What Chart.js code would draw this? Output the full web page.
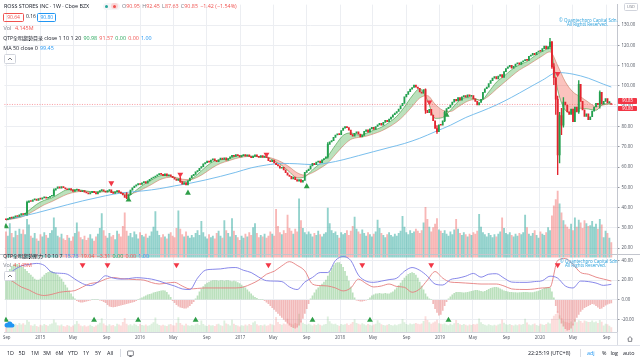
<!DOCTYPE html>
<html>
<head>
<meta charset="utf-8">
<script src="https://cdn.jsdelivr.net/npm/chart.js@4.4.1/dist/chart.umd.min.js"></script>
<style>
  body { margin: 0; background: #fff; }
  #wrap { position: relative; width: 640px; height: 360px; overflow: hidden; background: #fff;
          font-family: "Open Sans", "Noto Sans CJK TC", sans-serif; }
  #chart { position: absolute; left: 0; top: 0; }
  .t { position: absolute; white-space: nowrap; font-size: 5.4px; line-height: 7px; color: #131722; }
  .t span { margin-right: 2.2px; }
  .cjk { font-size: 5px; }
  .red { color: #ef5350; }
  .green { color: #26a65b; }
  .blue { color: #2196f3; }
  .violet { color: #6f6fe0; }
  .gray { color: #787b86; }
  .box { position: absolute; border: 0.7px solid; border-radius: 1.5px; font-size: 5px; line-height: 6.6px; text-align: center; }
  .btn { position: absolute; width: 10px; height: 8px; border: 0.6px solid #d1d4dc; border-radius: 1.5px; background: #fff; }
  .btn svg { position: absolute; left: 2px; top: 2px; }
  .wm { position: absolute; white-space: nowrap; font-size: 4.5px; line-height: 5px; color: #2aa0dc; }
  .plab { position: absolute; left: 618px; width: 19px; height: 5.6px; background: #f23645; color: #fff;
          font-size: 4.4px; line-height: 5.6px; text-align: center; border-radius: 0.8px; }
  .sep { position: absolute; width: 0; border-left: 0.7px solid #d8dbe2; }
</style>
</head>
<body>
<div id="wrap">
  <canvas id="chart" width="640" height="345"></canvas>

  <!-- price pane legend -->
  <div class="t" style="left:4px;top:3px;">ROSS STORES INC · 1W · Cboe BZX</div>
  <div style="position:absolute;left:103px;top:2.5px;width:17px;height:7px;border-radius:4px;background:#f4f5f7;"></div>
  <div style="position:absolute;left:105px;top:4.5px;width:3px;height:3px;border-radius:50%;background:#26a69a;"></div>
  <div style="position:absolute;left:111px;top:3px;width:7px;height:6px;border-radius:3px;background:#fbd5d7;"></div>
  <div style="position:absolute;left:113px;top:4.5px;width:3px;height:3px;border-radius:50%;background:#ef5350;"></div>
  <div class="t" style="left:122px;top:3px;"><span class="red"><b class="gray" style="font-weight:normal">O</b>90.95</span><span class="red"><b class="gray" style="font-weight:normal">H</b>92.45</span><span class="red"><b class="gray" style="font-weight:normal">L</b>87.63</span><span class="red"><b class="gray" style="font-weight:normal">C</b>90.85</span><span class="red">−1.42 (−1.54%)</span></div>
  <div class="box red" style="left:3.3px;top:13.3px;width:18.5px;height:6.6px;border-color:#ef5350;">90.64</div>
  <div class="t" style="left:26px;top:13.3px;font-size:5px;">0.16</div>
  <div class="box blue" style="left:37.3px;top:13.3px;width:17px;height:6.6px;border-color:#2196f3;">90.80</div>
  <div class="t" style="left:3.5px;top:25px;"><span class="gray">Vol</span> <span class="red">4.145M</span></div>
  <div class="t" style="left:3.3px;top:34.8px;"><span><b class="cjk" style="font-weight:normal">QTP全明趨勢目录</b> close 1 10 1 20</span><span class="green">90.98</span><span class="red">91.57</span><span class="green">0.00</span><span class="red">0.00</span><span class="blue">1.00</span></div>
  <div class="t" style="left:3.3px;top:44.5px;"><span>MA 50 close 0</span><span class="blue">99.45</span></div>
  <div class="btn" style="left:4px;top:53.5px;"><svg width="6" height="4" viewBox="0 0 6 4"><path d="M1 3L3 1L5 3" stroke="#131722" stroke-width="0.6" fill="none"/></svg></div>

  <div class="wm" style="left:559px;top:17.5px;">© Quantechpro Capital Sdn.</div>
  <div class="wm" style="left:567px;top:22px;">All Rights Reserved.</div>
  <div class="box gray" style="left:624px;top:3px;width:12px;height:5.6px;border-color:#d1d4dc;font-size:4px;line-height:5.6px;">USD</div>
  <div class="plab" style="top:98.4px;">90.85</div>
  <div class="plab" style="top:105.5px;">90.80</div>

  <!-- oscillator pane legend -->
  <div class="t" style="left:3.3px;top:252.6px;"><span><b class="cjk" style="font-weight:normal">QTP全明趨勢壓力</b> 10 10 7</span><span class="violet">15.73</span><span class="red">19.04</span><span class="red">−3.31</span><span class="green">0.00</span><span class="red">0.00</span><span class="blue">1.00</span></div>
  <div class="t" style="left:3.3px;top:262px;"><span class="gray">Vol</span><span class="red">4.145M</span></div>
  <div class="btn" style="left:4px;top:271px;"><svg width="6" height="4" viewBox="0 0 6 4"><path d="M1 3L3 1L5 3" stroke="#131722" stroke-width="0.6" fill="none"/></svg></div>
  <svg style="position:absolute;left:4px;top:320px;" width="11" height="8" viewBox="0 0 22 16"><path d="M5 15h12a4 4 0 0 0 0-8 6 6 0 0 0-11-1 4.5 4.5 0 0 0-1 9z" fill="#2196f3"/></svg>
  <div class="wm" style="left:560px;top:258.5px;">© Quantechpro Capital Sdn</div>
  <div class="wm" style="left:565px;top:263px;">All Rights Reserved.</div>

  <!-- time axis corner + toolbar -->
  <div class="sep" style="left:617px;top:332px;height:13px;"></div>
  <svg style="position:absolute;left:627px;top:336px;" width="6" height="6" viewBox="0 0 6 6"><path d="M0.5 3L3 0.6L5.5 3M1.3 2.4V5.4H4.7V2.4" stroke="#131722" stroke-width="0.5" fill="none"/></svg>
  <div style="position:absolute;left:0;top:345px;width:640px;height:0;border-top:0.7px solid #e0e3eb;"></div>
  <div class="t" style="left:7px;top:350px;">1D</div>
  <div class="t" style="left:18.5px;top:350px;">5D</div>
  <div class="t" style="left:31px;top:350px;">1M</div>
  <div class="t" style="left:43px;top:350px;">3M</div>
  <div class="t" style="left:55.5px;top:350px;">6M</div>
  <div class="t" style="left:68px;top:350px;">YTD</div>
  <div class="t" style="left:83px;top:350px;">1Y</div>
  <div class="t" style="left:95px;top:350px;">5Y</div>
  <div class="t" style="left:107px;top:350px;">All</div>
  <div class="sep" style="left:120px;top:349px;height:8px;"></div>
  <svg style="position:absolute;left:127px;top:350px;" width="7" height="7" viewBox="0 0 7 7"><rect x="0.6" y="1" width="5.8" height="4.6" rx="0.6" stroke="#131722" stroke-width="0.5" fill="none"/><path d="M2 6.6H5M3.5 5.6V6.6" stroke="#131722" stroke-width="0.5"/></svg>
  <div class="t" style="left:528px;top:350px;">22:25:19 (UTC+8)</div>
  <div class="sep" style="left:580px;top:349px;height:8px;"></div>
  <div class="t blue" style="left:587px;top:350px;">adj</div>
  <div class="t" style="left:602px;top:350px;">%</div>
  <div class="t" style="left:610.5px;top:350px;">log</div>
  <div class="t" style="left:623px;top:350px;">auto</div>
</div>

<script>
// weekly bars, week 0 = 29 Aug 2014
var close2014 = [34.0, 34.6, 35.2, 34.8, 35.4, 36.0, 35.6, 36.4, 37.0, 36.6, 37.2, 42.6, 43.4, 43.0, 43.8, 44.2, 43.6, 44.4];
var close2015 = [44.2, 44.8, 45.2, 44.6, 45.0, 45.6, 46.0, 48.6, 49.4, 50.2, 49.6, 50.4, 49.8,
    49.2, 48.8, 49.4, 48.6, 48.0, 48.6, 49.0, 48.2, 47.8, 48.4, 47.6,
    47.2, 46.8, 47.4, 48.0, 47.4, 46.8, 47.6, 48.4, 48.8, 48.2,
    47.6, 48.4, 48.8, 47.4, 47.0, 47.8, 48.4, 47.6, 47.0, 46.2, 45.0, 44.8,
    46.4, 48.6, 49.8, 50.6, 51.2, 51.8];
var close2016 = [51.4, 52.2, 52.8, 52.0, 53.2, 54.0, 54.6, 55.0,
    55.6, 56.2, 56.8, 56.4, 55.8, 56.6, 55.6, 56.2, 55.4,
    54.8, 54.0, 53.4, 54.2, 52.8, 51.6, 52.4, 51.2,
    53.2, 54.6, 55.8, 56.4, 57.6, 58.2, 59.4, 60.2, 61.6,
    62.2, 63.0, 62.4, 63.4, 64.0, 63.2, 62.6, 63.6, 64.4, 63.8, 64.6, 63.4, 64.2,
    65.0, 65.8, 65.2, 66.2, 65.6, 65.0];
var close2017 = [65.6, 66.2, 65.4, 66.0, 65.2, 64.6, 65.4, 66.0, 65.2, 64.8, 65.6, 64.8, 65.4,
    64.6, 63.2, 62.6, 63.4, 62.0, 61.2, 60.6, 59.4, 59.8, 58.6,
    57.2, 56.0, 55.4, 54.2, 55.0, 53.8, 53.0, 53.8, 52.6,
    53.4, 57.4, 58.2, 59.0, 60.6, 61.8, 61.2, 62.4, 63.0, 62.2, 63.6, 64.2, 65.0, 71.2, 72.4, 73.0, 74.6, 75.8, 76.4, 76.0];
var close2018 = [78.0, 79.2, 80.0, 79.4, 78.2, 76.0, 75.2, 76.6, 77.4, 76.2, 74.8, 75.6,
    77.6, 78.4, 77.2, 78.8, 79.6, 78.6, 80.0, 80.8,
    81.6, 80.6, 82.0, 83.0, 82.4, 83.6, 84.6, 85.8, 86.6, 87.4, 88.6,
    90.2, 91.4, 94.6, 95.8, 97.2, 98.4, 99.2, 100.4, 99.4, 98.8, 97.0, 96.4, 98.2,
    88.0, 86.8, 88.4, 85.6, 82.8, 79.0, 77.4, 80.8];
var close2019 = [80.6, 82.8, 87.0, 88.8, 89.4, 90.6, 92.0,
    93.4, 92.6, 94.2, 93.0, 94.6, 95.2, 94.4, 95.6, 94.8,
    95.2, 93.6, 92.4, 90.6, 91.8,
    93.4, 96.8, 98.6, 99.4, 101.2, 102.6, 103.8, 104.6, 103.4, 104.8, 105.6,
    104.2, 107.0, 108.6, 109.4, 110.2, 108.8, 109.6, 110.8, 111.4, 110.6, 111.8, 112.4,
    113.0, 112.6, 114.6, 115.2, 116.0, 115.4, 116.6, 117.2];
var close2020 = [117.0, 118.4, 119.6, 118.2, 119.4, 121.6, 109.4, 104.0, 93.4, 66.0,
    85.4, 80.6, 92.0, 90.6, 87.2, 86.0, 88.6, 82.4, 89.6, 87.2,
    100.8, 92.4, 88.2, 85.0, 86.2, 83.4, 84.8, 87.6, 89.6, 91.4,
    90.6, 96.8, 91.0, 92.4, 93.8, 91.6, 92.27, 90.85];
var firstOpen = 34.3;
var lastOpen = 90.95;

// long wicks worth drawing: [week, low, high]
var bigWicks = [[11, 36.2, 43.2], [25, 45.6, 49.2], [63, 44.4, 47.4], [91, 52.4, 55.2], [168, 64.4, 72.0],
    [219, 86.4, 98.6], [225, 76.6, 80.4], [229, 82.4, 87.6], [284, 118.6, 123.4], [285, 108.6, 122.0],
    [286, 100.6, 111.0], [287, 86.0, 104.0], [288, 56.3, 95.0], [289, 62.0, 87.0], [290, 76.0, 89.0],
    [291, 79.6, 94.2], [299, 86.4, 102.6], [310, 89.0, 97.6]];

// weekly volume, millions
var vol2014 = [7.2, 6.0, 9.6, 6.8, 5.6, 7.4, 6.2, 8.0, 6.6, 7.8, 6.4, 10.8, 9.2, 6.0, 5.4, 6.8, 5.2, 4.6];
var vol2015 = [6.4, 5.8, 7.0, 6.2, 5.4, 6.8, 7.6, 11.2, 8.4, 6.0, 5.6, 6.6, 5.2, 4.8, 6.2, 5.4, 4.6, 5.8, 6.8, 9.8,
    7.2, 5.6, 5.0, 6.0, 4.8, 5.4, 6.4, 5.2, 4.6, 5.8, 6.6, 8.2, 12.4, 7.6, 6.0, 5.4, 6.8, 5.8, 6.2, 5.0,
    7.4, 6.6, 5.8, 8.8, 12.6, 7.4, 6.0, 6.8, 5.6, 7.2, 6.4, 5.2];
var vol2016 = [7.0, 6.2, 5.8, 6.6, 5.4, 6.0, 7.2, 8.6, 13.0, 7.4, 6.2, 5.6, 6.4, 5.8, 5.2, 6.6, 7.0, 6.0, 5.6, 8.2,
    13.2, 8.0, 6.4, 5.8, 7.2, 6.0, 5.4, 6.2, 5.6, 6.8, 7.6, 6.2, 10.2, 7.0, 5.8, 5.2, 6.4, 5.6, 6.0, 5.2,
    6.8, 7.4, 6.0, 5.4, 10.4, 7.6, 6.8, 5.8, 11.0, 7.4, 6.2, 5.6, 4.8];
var vol2017 = [6.0, 5.4, 6.6, 5.8, 7.0, 6.2, 8.4, 9.6, 6.8, 5.6, 6.2, 5.8, 6.6, 5.4, 6.0, 7.2, 6.6, 6.0, 13.6, 8.8,
    7.0, 6.4, 7.6, 6.8, 12.0, 8.2, 7.4, 6.6, 8.0, 7.2, 16.6, 10.4, 8.2, 7.0, 6.4, 7.2, 6.6, 5.8, 6.8, 6.2,
    7.4, 6.4, 5.8, 6.6, 7.0, 14.0, 9.6, 7.6, 6.8, 7.2, 6.2, 5.4];
var vol2018 = [7.0, 6.4, 6.8, 7.6, 6.2, 7.4, 8.8, 11.4, 8.0, 7.2, 6.6, 7.8, 6.8, 6.0, 7.0, 6.4, 5.8, 6.6, 7.2, 10.6,
    8.2, 6.8, 6.2, 5.6, 6.4, 7.0, 6.2, 5.8, 6.6, 6.0, 6.8, 7.4, 11.6, 8.6, 7.0, 6.4, 7.6, 6.8, 7.2, 8.0,
    7.4, 6.8, 7.6, 9.8, 14.2, 10.8, 8.6, 7.2, 8.4, 9.4, 11.0, 7.8];
var vol2019 = [7.4, 6.8, 7.6, 6.6, 6.0, 7.2, 6.4, 7.8, 10.8, 8.0, 6.8, 6.2, 7.0, 6.4, 5.8, 6.6, 6.2, 7.0, 6.6, 7.4,
    12.2, 8.6, 7.0, 6.4, 5.8, 6.8, 6.2, 5.6, 6.4, 5.8, 6.6, 7.2, 11.2, 8.2, 6.8, 6.4, 7.0, 6.2, 5.8, 6.6,
    6.0, 6.8, 6.4, 7.0, 12.0, 8.4, 6.6, 6.0, 6.8, 7.6, 6.2, 5.4];
var vol2020 = [7.2, 6.6, 6.2, 7.0, 8.4, 7.6, 11.8, 14.6, 16.4, 18.8, 15.2, 12.6, 10.4, 9.2, 8.6, 8.0, 9.4, 7.6, 11.2, 8.6,
    10.6, 9.8, 8.2, 10.4, 9.6, 8.8, 9.0, 10.2, 8.6, 9.4, 8.0, 10.8, 9.2, 5.6, 7.4, 6.8, 5.4, 4.145];

// oscillator histogram, weekly
var hist2014 = [22, 27, 31, 34, 35.5, 36, 36, 35, 34, 33, 31, 29, 27, 25, 23, 21, 20, 20];
var hist2015 = [21, 23, 25, 27, 28, 29, 29, 28, 27, 25, 23, 21, 18, 15, 12, 9, 6, 3, 1,
    -1, -2, -2.4, -2.4, -2, -1.5, -1, -0.5, 0, 0.5, 0.5, 0, -0.5, -1, -2, -3,
    -5, -6.5, -7.2, -7.4, -7, -6.5, -6, -5.5, -5, -4.5, -4, -3.5, -3, -2.5, -2, -1, 0];
var hist2016 = [1, 2, 3, 4, 5, 5.5, 6, 7, 7.5, 8, 8.5, 9, 9.3, 9, 7.5, 5, 2.5,
    -1, -3, -5, -6.5, -7.5, -8.2, -8.7, -8.5, -7.5, -6, -4, -2,
    1, 4, 8, 11, 13.5, 15.5, 17, 18, 19, 19.4, 19.4, 19.4, 19, 19.4, 19.4, 19, 19.4, 19.4, 19, 18.5, 19, 18.5, 17.5, 16.5];
var hist2017 = [15, 13.5, 12, 10, 8, 6, 4, 2.5, 1.5, 0.5, 0, 0,
    -1, -2.5, -4, -6, -8, -10, -12, -14, -16, -18, -20, -22, -24, -26, -27.5, -28.5, -29, -28, -26, -23, -19, -14, -9, -4,
    1, 4, 7, 10, 12, 14, 16, 18, 20, 24, 28, 32, 35, 37, 37.8, 37.8];
var hist2018 = [36, 33, 29, 24, 19, 13, 7, 2, -0.5, -1, -1.4, -1.4, -1, -0.5, 0,
    2, 4, 5, 6, 6, 6.5, 6, 6, 6.5, 6, 6, 7, 8, 10, 12, 14.5, 17, 19.5, 22, 24, 26, 27, 27.7, 27, 25, 22, 18, 14, 10, 6, 3, 1, 0,
    -4, -9, -13, -15.8];
var hist2019 = [-15, -11, -6, -2,
    1, 3, 5, 6.5, 7.5, 7.6, 7.6, 7.2, 7, 7.4, 7.6, 8, 8.5, 9, 9.5, 9.5, 9, 8.5, 8, 8.5,
    9.5, 10.5, 11.5, 12.2, 12.7, 12.7, 12, 11, 10, 9, 8.5, 8, 7.6, 7.6, 7.4, 7.2, 7, 7.2, 7.4, 7.6,
    7.6, 7.6, 7.4, 7.2, 7.4, 7.8, 8.2, 8.8];
var hist2020 = [9.6, 10.6, 11.6, 12.4, 12.7, 12, 8, 2,
    -6, -13, -19, -24, -27, -29.5, -31, -30.5, -29, -26, -22, -18, -15, -12, -10, -8, -7, -6, -5, -4,
    -4.5, -6, -7.5, -9, -8.5, -7, -5.5, -4.5, -3.8, -3.31];

// ribbon lines and oscillator lines, one reading every 4 weeks
var ribbonFast = [34.0, 34.9, 36.0, 38.6, 41.6, 43.6, 44.8, 47.0, 48.8, 48.9,
    48.5, 47.9, 47.8, 48.0, 47.7, 47.3, 45.8, 48.6, 51.4, 53.6,
    55.6, 56.0, 54.9, 52.8, 53.6, 56.4, 59.8, 62.6, 63.6, 64.0,
    65.4, 65.8, 65.4, 65.1, 64.8, 63.0, 60.8, 57.6, 54.6, 55.2,
    58.6, 61.8, 65.4, 70.8, 75.6, 76.8, 75.8, 76.6, 78.2, 79.6,
    82.0, 85.0, 89.6, 95.0, 98.6, 93.0, 84.0, 84.4, 88.0, 92.2,
    94.2, 94.0, 92.8, 97.0, 101.8, 104.8, 108.0, 110.4, 112.0, 114.8,
    117.0, 118.6, 98.0, 88.0, 86.6, 89.0, 88.6, 88.0, 91.2, 90.98];
var ribbonSlow = [33.8, 34.5, 35.3, 37.0, 39.2, 41.4, 43.0, 44.9, 46.6, 47.6,
    48.0, 47.8, 47.7, 47.8, 47.8, 47.6, 46.8, 47.6, 49.4, 51.4,
    53.6, 54.8, 55.0, 54.0, 53.8, 55.0, 57.2, 59.8, 61.8, 63.0,
    64.2, 65.0, 65.2, 65.1, 65.0, 64.0, 62.4, 60.0, 57.2, 56.0,
    57.2, 59.4, 62.0, 66.2, 70.4, 73.6, 74.6, 75.2, 76.4, 77.8,
    79.8, 82.2, 85.6, 89.8, 94.0, 95.2, 91.0, 88.0, 87.4, 89.6,
    92.0, 93.2, 93.0, 95.0, 98.4, 101.6, 104.8, 107.8, 110.0, 112.4,
    114.8, 116.8, 110.0, 102.0, 97.0, 94.6, 92.0, 89.8, 90.6, 91.57];
var oscBlue = [24, 30, 34.5, 36, 37, 35, 28, 27, 26, 21,
    16.4, 14.4, 18, 24.4, 22, 21, 21.5, 22.5, 22, 21,
    19, 16.4, 14, 11, 10.4, 22, 30, 31, 31.4, 32.5,
    32.8, 30, 27.7, 23, 19.4, 19, 18.5, 13, 10.4, 18,
    22.7, 27.7, 27.7, 40, 44, 40, 25, 19, 17.7, 19,
    20.5, 22, 29, 32.8, 30, 24, 16, 15, 20.5, 22,
    24, 26.8, 23, 26, 26.5, 22, 18, 17.7, 17.7, 18.5,
    19.4, 24, 22, 14, 12, 19, 18.5, 17, 14.6, 15.73];
var oscRed = [22.7, 18, 13, 10, 6, 4.3, 5.5, 7.6, 8.5, 9.3,
    13, 16.5, 17.7, 21, 22.7, 21.5, 21, 20.5, 20, 17.5,
    16, 17, 17.7, 14, 11, 11.5, 12, 12, 12, 12,
    12, 13, 16, 20, 26, 29, 34.5, 38.8, 35, 29.4,
    16, 14.4, 14, 12, 9, 12, 21, 16.5, 13, 14,
    16, 13.5, 12.7, 7.6, 11, 20, 28.7, 22, 18, 17.5,
    17, 16.5, 16, 16, 16, 14, 11, 10.5, 10.4, 11,
    12, 12.7, 40, 42, 36, 27.7, 26, 23, 21, 19.04];

// MA 50, one reading every 8 weeks (last one is the final week)
var ma50 = [34.0, 35.6, 37.4, 39.4, 41.4, 43.3, 45.0, 46.6, 47.6, 48.3,
    49.3, 50.7, 52.0, 53.6, 55.4, 57.4, 59.6, 61.0, 61.8, 61.6,
    61.2, 62.0, 63.6, 65.6, 67.6, 69.6, 71.6, 74.2, 77.4, 80.6,
    84.4, 87.4, 90.6, 94.4, 98.6, 102.8, 106.6, 105.8, 103.8, 100.8, 99.45];

// signal weeks
var priceSellWeeks = [55, 91, 136, 221, 288];
var priceSellLevels = [52.1, 56.4, 66.2, 92.0, 106.0];
var priceBuyWeeks = [0, 64, 95, 157, 230];
var priceBuyLevels = [30.7, 43.8, 47.2, 50.4, 85.6];
var oscSellWeeks = [40, 53, 89, 137, 186, 222, 288];
var oscBuyWeeks = [0, 46, 69, 99, 160, 190, 231];

var priceTicks = [20, 30, 40, 50, 60, 70, 80, 90, 100, 110, 120, 130];
var oscTicks = [-20, 0, 20, 40];
var monthNames = ['Jan', 'Feb', 'Mar', 'Apr', 'May', 'Jun', 'Jul', 'Aug', 'Sep', 'Oct', 'Nov', 'Dec'];

var closes = [].concat(close2014, close2015, close2016, close2017, close2018, close2019, close2020);
var volumes = [].concat(vol2014, vol2015, vol2016, vol2017, vol2018, vol2019, vol2020);
var histo = [].concat(hist2014, hist2015, hist2016, hist2017, hist2018, hist2019, hist2020);

var opens = closes.map(function (c, i) { return i === 0 ? firstOpen : closes[i - 1]; });
opens[opens.length - 1] = lastOpen;
var isUp = closes.map(function (c, i) { return c >= opens[i]; });

var UP = '#22a04e', DOWN = '#e3242e';
var SELL = '#f23645', BUY = '#2e9e48';

// time axis: Jan / May / Sep marks, in week units
var START = Date.UTC(2014, 7, 29);
var WEEK = 7 * 86400000;
var timeTicks = [];
for (var yr = 2014; yr <= 2020; yr++) {
    [0, 4, 8].forEach(function (m) {
        var w = (Date.UTC(yr, m, 1) - START) / WEEK;
        if (w > -1 && w < 318) timeTicks.push({ value: w, label: m === 0 ? String(yr) : monthNames[m] });
    });
}

function everyN(values, n, last) {
    return values.map(function (v, k) { return { x: Math.min(k * n, last), y: v }; });
}

function signalPoints(weeks, levels) {
    return weeks.map(function (w, k) { return { x: w, y: Array.isArray(levels) ? levels[k] : levels }; });
}

var lastWeek = closes.length - 1;

var datasets = [
    {
        type: 'bar', label: 'vol', yAxisID: 'yv', order: 20, grouped: false, barThickness: 1.2,
        data: volumes.map(function (v, i) { return { x: i, y: v }; }),
        backgroundColor: isUp.map(function (u) { return u ? 'rgba(38,166,154,0.5)' : 'rgba(239,83,80,0.42)'; })
    },
    {
        type: 'bar', label: 'vol2', yAxisID: 'yv2', order: 19, grouped: false, barThickness: 1.2,
        data: volumes.map(function (v, i) { return { x: i, y: v }; }),
        backgroundColor: isUp.map(function (u) { return u ? 'rgba(102,187,106,0.22)' : 'rgba(239,83,80,0.2)'; })
    },
    {
        type: 'bar', label: 'hist', yAxisID: 'yo', order: 18, grouped: false, barThickness: 1,
        data: histo.map(function (v, i) { return { x: i, y: v }; }),
        backgroundColor: histo.map(function (v) { return v >= 0 ? 'rgba(102,187,106,0.45)' : 'rgba(229,115,115,0.5)'; })
    },
    {
        type: 'line', label: 'oscBlue', yAxisID: 'yo', order: 6, data: everyN(oscBlue, 4, lastWeek),
        borderColor: '#7b7be6', borderWidth: 0.9, pointRadius: 0, cubicInterpolationMode: 'monotone', fill: false
    },
    {
        type: 'line', label: 'oscRed', yAxisID: 'yo', order: 6, data: everyN(oscRed, 4, lastWeek),
        borderColor: '#e57f7f', borderWidth: 0.9, pointRadius: 0, cubicInterpolationMode: 'monotone', fill: false
    },
    {
        type: 'line', label: 'fast', yAxisID: 'y', order: 12, data: everyN(ribbonFast, 4, lastWeek),
        borderColor: 'rgba(67,160,71,0.8)', borderWidth: 0.8, pointRadius: 0, cubicInterpolationMode: 'monotone',
        fill: { target: '+1', above: 'rgba(76,175,80,0.38)', below: 'rgba(244,67,54,0.32)' }
    },
    {
        type: 'line', label: 'slow', yAxisID: 'y', order: 12, data: everyN(ribbonSlow, 4, lastWeek),
        borderColor: 'rgba(205,95,70,0.6)', borderWidth: 0.8, pointRadius: 0, cubicInterpolationMode: 'monotone', fill: false
    },
    {
        type: 'line', label: 'ma50', yAxisID: 'y', order: 11, data: everyN(ma50, 8, lastWeek),
        borderColor: '#6ab7ea', borderWidth: 0.9, pointRadius: 0, cubicInterpolationMode: 'monotone', fill: false
    },
    {
        type: 'bar', label: 'wicks', yAxisID: 'y', order: 9, grouped: false, barThickness: 0.7,
        data: bigWicks.map(function (w) { return { x: w[0], y: [w[1], w[2]] }; }),
        backgroundColor: bigWicks.map(function (w) { return isUp[w[0]] ? UP : DOWN; })
    },
    {
        type: 'bar', label: 'candles', yAxisID: 'y', order: 8, grouped: false, barThickness: 1.2, minBarLength: 1,
        data: closes.map(function (c, i) { return { x: i, y: [opens[i], c] }; }),
        backgroundColor: isUp.map(function (u) { return u ? UP : DOWN; })
    },
    {
        type: 'line', label: 'sell', yAxisID: 'y', order: 1, showLine: false,
        data: signalPoints(priceSellWeeks, priceSellLevels),
        pointStyle: 'triangle', pointRotation: 180, pointRadius: 3.4, pointBorderWidth: 0, pointBackgroundColor: SELL
    },
    {
        type: 'line', label: 'buy', yAxisID: 'y', order: 1, showLine: false,
        data: signalPoints(priceBuyWeeks, priceBuyLevels),
        pointStyle: 'triangle', pointRadius: 3.4, pointBorderWidth: 0, pointBackgroundColor: BUY
    },
    {
        type: 'line', label: 'oscSell', yAxisID: 'yo', order: 1, showLine: false,
        data: signalPoints(oscSellWeeks, 35.5),
        pointStyle: 'triangle', pointRotation: 180, pointRadius: 3.4, pointBorderWidth: 0, pointBackgroundColor: SELL
    },
    {
        type: 'line', label: 'oscBuy', yAxisID: 'yo', order: 1, showLine: false,
        data: signalPoints(oscBuyWeeks, -20.8),
        pointStyle: 'triangle', pointRadius: 3.4, pointBorderWidth: 0, pointBackgroundColor: BUY
    }
];

// dotted last-price line and the pane separator
var paneLines = {
    id: 'paneLines',
    beforeDatasetsDraw: function (chart) {
        var ctx = chart.ctx, area = chart.chartArea;
        var yp = chart.scales.y.getPixelForValue(closes[lastWeek]);
        ctx.save();
        ctx.strokeStyle = 'rgba(242,54,69,0.7)';
        ctx.lineWidth = 0.7;
        ctx.setLineDash([1, 1.5]);
        ctx.beginPath();
        ctx.moveTo(area.left, yp);
        ctx.lineTo(area.right, yp);
        ctx.stroke();
        ctx.restore();
    },
    afterDraw: function (chart) {
        var ctx = chart.ctx;
        var ys = Math.round(chart.scales.yo.top) + 0.5;
        ctx.save();
        ctx.strokeStyle = '#c3c6ce';
        ctx.lineWidth = 1;
        ctx.beginPath();
        ctx.moveTo(0, ys);
        ctx.lineTo(chart.width, ys);
        ctx.stroke();
        ctx.restore();
    }
};

Chart.defaults.font.family = "'Open Sans', 'DejaVu Sans', sans-serif";
var GRID = '#eceef2';
var AXIS_TEXT = '#4c525e';

new Chart(document.getElementById('chart'), {
    type: 'line',
    data: { datasets: datasets },
    options: {
        responsive: false,
        animation: false,
        events: [],
        layout: { padding: 0, autoPadding: false },
        plugins: { legend: { display: false }, tooltip: { enabled: false } },
        scales: {
            x: {
                type: 'linear', min: -0.8, max: 318.97, offset: false,
                afterBuildTicks: function (s) { s.ticks = timeTicks.map(function (t) { return { value: t.value }; }); },
                afterFit: function (s) { s.height = 13; },
                ticks: {
                    autoSkip: false, maxRotation: 0, minRotation: 0, padding: 3, color: AXIS_TEXT, font: { size: 4.4 },
                    callback: function (v, i) { return timeTicks[i] ? timeTicks[i].label : ''; }
                },
                grid: { color: GRID, drawTicks: false, offset: false },
                border: { display: true, color: '#d1d4dc' }
            },
            y: {
                position: 'right', stack: 'panes', stackWeight: 253, min: 17.08, max: 140.06,
                afterBuildTicks: function (s) { s.ticks = priceTicks.map(function (v) { return { value: v }; }); },
                afterFit: function (s) { s.width = 23; },
                ticks: { padding: 2, color: AXIS_TEXT, font: { size: 4.4 }, callback: function (v) { return v.toFixed(2); } },
                grid: { color: GRID, tickLength: 2.5, tickColor: '#9598a1' },
                border: { display: true, color: '#c3c6ce' }
            },
            yo: {
                position: 'right', stack: 'panes', stackWeight: 79, min: -32.9, max: 46.5,
                afterBuildTicks: function (s) { s.ticks = oscTicks.map(function (v) { return { value: v }; }); },
                afterFit: function (s) { s.width = 23; },
                ticks: { padding: 2, color: AXIS_TEXT, font: { size: 4.4 }, callback: function (v) { return v.toFixed(2); } },
                grid: { color: GRID, tickLength: 2.5, tickColor: '#9598a1' },
                border: { display: true, color: '#c3c6ce' }
            },
            yv: { display: false, position: 'right', min: -21.35, max: 72 },
            yv2: { display: false, position: 'right', min: 0, max: 301.8 }
        }
    },
    plugins: [paneLines]
});
</script>
</body>
</html>
